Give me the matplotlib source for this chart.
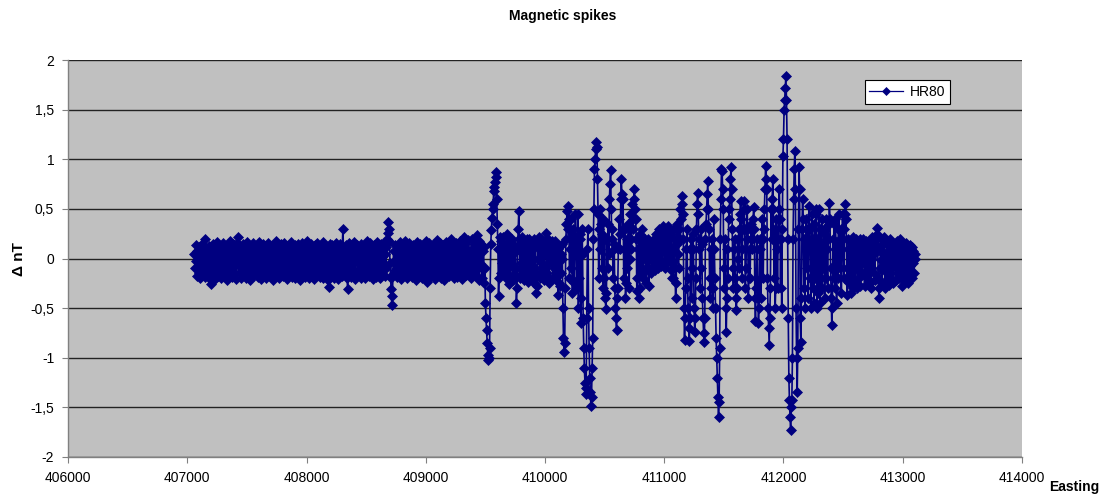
import numpy as np
import matplotlib
matplotlib.use("Agg")
import matplotlib.pyplot as plt

plt.rcParams['font.family'] = ['Liberation Sans', 'DejaVu Sans']

# HR80 profile, one reading every 5 m from the first station
easting_start = 407060
easting_step = 5

# quiet western part of the line
hr80_west = [
    0.05, -0.1, 0.14, -0.03, -0.18, 0.08, 0.0, -0.15, 0.12, -0.07, -0.2, 0.04, 0.15, -0.12, 0.02, -0.05, 0.1, -0.19, 0.2, -0.08,
    0.06, -0.14, 0.11, -0.01, -0.2, 0.13, 0.03, -0.26, -0.09, 0.09, -0.16, 0.15, -0.04, 0.07, -0.21, 0.01, 0.12, -0.11, 0.17, -0.06,
    -0.18, 0.04, 0.14, -0.13, 0.0, -0.2, 0.1, -0.07, 0.16, -0.02, -0.17, 0.08, -0.1, 0.13, -0.22, 0.05, -0.04, 0.11, -0.15, 0.18,
    0.02, -0.12, 0.09, -0.19, 0.15, -0.05, 0.06, -0.16, 0.12, -0.01, -0.21, 0.1, 0.16, 0.22, -0.08, 0.03, -0.14, 0.13, -0.2, 0.07,
    -0.03, 0.15, -0.17, 0.0, 0.11, -0.11, 0.05, -0.2, 0.17, -0.06, 0.08, -0.14, 0.02, 0.13, -0.22, -0.02, 0.1, -0.09, 0.16, -0.18,
    0.04, -0.07, 0.12, -0.15, 0.01, 0.14, -0.19, 0.07, -0.04, 0.17, -0.12, 0.03, -0.21, 0.1, -0.01, 0.15, -0.16, 0.06, -0.08, 0.13,
    -0.2, 0.0, 0.09, -0.13, 0.16, -0.05, 0.04, -0.18, 0.12, -0.1, 0.07, -0.22, 0.14, 0.02, -0.15, 0.11, -0.03, 0.18, -0.17, 0.05,
    -0.09, 0.13, -0.2, 0.03, 0.1, -0.14, 0.15, -0.02, -0.18, 0.08, -0.06, 0.16, -0.11, 0.0, 0.12, -0.21, 0.06, -0.08, 0.14, -0.16,
    0.09, -0.04, 0.17, -0.19, 0.02, 0.11, -0.12, 0.05, -0.2, 0.14, -0.07, 0.08, -0.16, 0.15, 0.01, -0.1, 0.12, -0.22, 0.04, -0.03,
    0.16, -0.15, 0.07, -0.05, 0.13, -0.19, 0.0, 0.1, -0.12, 0.18, -0.08, 0.03, -0.2, 0.11, -0.02, 0.15, -0.17, 0.06, -0.1, 0.12,
    -0.21, 0.02, 0.14, -0.06, 0.08, -0.16, 0.16, -0.01, -0.13, 0.1, -0.19, 0.05, 0.13, -0.09, 0.0, -0.2, 0.17, -0.04, 0.09, -0.14,
    0.12, -0.18, 0.04, -0.07, -0.22, -0.29, 0.01, 0.15, -0.11, 0.07, -0.17, 0.14, -0.03, 0.1, -0.2, 0.06, -0.09, 0.16, -0.14, 0.02,
    0.11, -0.21, 0.08, -0.05, 0.15, -0.13, 0.0, -0.18, 0.13, 0.3, 0.1, -0.08, 0.05, -0.16, 0.14, -0.02, -0.2, -0.31, -0.12, 0.09,
    0.16, -0.06, 0.03, -0.19, 0.12, -0.1, 0.07, -0.15, 0.17, -0.01, -0.21, 0.1, -0.04, 0.14, -0.17, 0.05, 0.11, -0.12, 0.02, -0.2,
    0.15, -0.07, 0.09, -0.16, 0.01, 0.13, -0.2, 0.06, -0.11, 0.18, -0.03, 0.04, -0.18, 0.12, -0.08, 0.16, -0.14, 0.0, 0.1, -0.21,
    0.07, -0.05, 0.14, -0.12, 0.03, -0.19, 0.17, -0.09, 0.08, -0.15, 0.11, -0.02, -0.2, 0.15, 0.02, -0.13, 0.1, -0.06, 0.16, -0.18,
    0.05, -0.1, 0.12, 0.2, 0.26, 0.37, 0.3, 0.18, -0.05, -0.2, -0.31, -0.47, -0.38, -0.16, 0.08, -0.04, 0.14, -0.12, 0.0, -0.19,
    0.13, -0.07, 0.06, -0.15, 0.17, -0.02, -0.21, 0.1, -0.11, 0.15, 0.01, -0.17, 0.09, -0.05, 0.18, -0.13, 0.04, -0.2, 0.12, -0.08,
    0.16, -0.16, 0.02, 0.11, -0.1, -0.19, 0.14, -0.03, 0.07, -0.14, 0.13, -0.22, 0.05, -0.06, 0.17, -0.12, 0.0, 0.1, -0.18, 0.15,
    -0.04, -0.2, 0.08, 0.14, -0.11, 0.03, -0.16, 0.12, -0.07, 0.18, -0.24, -0.14, 0.06, -0.02, 0.16, -0.19, 0.1, -0.09, 0.13, 0.0,
    -0.17, 0.15, -0.05, 0.07, -0.21, 0.12, -0.12, 0.19, 0.01, -0.15, 0.09, -0.08, 0.16, -0.2, 0.04, 0.11, -0.13, 0.14, -0.03, -0.22,
    0.1, -0.07, 0.17, -0.16, 0.02, 0.13, -0.1, -0.18, 0.08, 0.0, 0.2, -0.14, 0.05, -0.05, 0.15, -0.2, 0.11, -0.09, 0.16, -0.12,
    0.03, -0.19, 0.14, -0.02, 0.09, -0.15, 0.18, -0.06, -0.21, 0.12, 0.06, -0.11, 0.22, -0.04, 0.15, -0.17, 0.01, 0.1, -0.13, 0.19,
    -0.08, -0.15,
]

# first spikes around 409500 - 411000
hr80_central = [
    0.04, -0.12, -0.2, 0.1, 0.2, -0.03, -0.08, 0.15, 0.12, -0.16, -0.18, 0.06, 0.24, -0.1, 0.0, 0.18, -0.22, -0.05, 0.15, 0.08,
    -0.1, -0.2, 0.08, 0.12, -0.25, -0.1, -0.45, -0.6, -0.72, -0.85, -0.97, -1.02, -1.0, -0.9, -0.3, 0.15, 0.29, 0.41, 0.5, 0.55,
    0.68, 0.72, 0.77, 0.82, 0.87, 0.6, 0.35, 0.1, -0.38, -0.2, 0.1, 0.22, -0.15, 0.18, -0.05, 0.05, 0.22, -0.12, -0.15, 0.12,
    0.05, -0.2, 0.14, 0.25, -0.08, -0.26, 0.12, 0.2, -0.18, 0.0, 0.2, -0.08, -0.22, 0.15, 0.06, -0.16, 0.1, -0.1, -0.45, -0.3,
    0.1, 0.3, 0.48, 0.2, -0.2, 0.14, -0.05, -0.12, 0.22, 0.0, -0.22, 0.05, 0.18, -0.1, -0.16, 0.1, 0.2, -0.24, -0.05, 0.2,
    -0.12, 0.15, 0.02, -0.2, 0.12, -0.18, 0.1, 0.2, -0.25, -0.1, 0.15, -0.35, -0.28, -0.18, 0.12, 0.0, 0.22, -0.15, -0.2, 0.1,
    0.2, -0.05, -0.1, 0.16, 0.05, -0.22, 0.18, 0.26, 0.1, -0.15, 0.05, 0.2, -0.2, -0.25, 0.1, 0.15, -0.05, 0.18, 0.0, -0.2,
    0.12, -0.1, 0.18, -0.2, 0.05, 0.15, -0.15, 0.1, -0.37, -0.25, 0.12, -0.28, 0.05, -0.15, 0.15, 0.0, -0.5, -0.8, -0.94, -0.85,
    -0.3, 0.2, 0.35, 0.48, 0.3, 0.53, 0.4, -0.2, 0.1, 0.4, -0.1, 0.25, -0.35, 0.3, 0.05, -0.25, 0.2, 0.45, 0.15, -0.3,
    0.1, 0.45, -0.5, -0.2, 0.2, 0.25, -0.65, -0.4, 0.3, 0.05, -0.6, -0.9, -1.1, -1.25, -1.37, -1.3, -0.6, 0.1, 0.3, -0.5,
    -0.9, -1.2, -1.35, -1.49, -1.4, -1.1, -0.8, 0.2, 0.5, 0.9, 1.0, 1.1, 1.17, 1.12, 0.8, 0.45, -0.2, 0.3, 0.5, 0.1,
    0.35, -0.1, 0.25, -0.3, 0.4, -0.2, 0.2, -0.4, -0.51, -0.35, 0.2, -0.1, 0.35, 0.05, 0.6, 0.75, 0.89, 0.5, 0.2, 0.3,
    -0.2, 0.1, 0.15, -0.3, -0.5, -0.6, -0.72, -0.4, -0.3, 0.1, 0.4, 0.25, 0.1, 0.6, 0.8, 0.65, 0.3, 0.6, -0.2, 0.1,
    0.3, -0.4, -0.25, 0.2, -0.1, 0.1, 0.35, -0.3, 0.0, 0.45, 0.2, 0.1, 0.55, 0.3, 0.4, 0.6, 0.7, 0.5, 0.4, 0.2,
    -0.33, -0.2, 0.1, 0.2, -0.4, -0.3, 0.25, 0.1, -0.15, 0.3, 0.0, -0.2, 0.15, 0.2, 0.05, -0.1, -0.25, 0.15, 0.2, -0.1,
    -0.28, 0.0, 0.08, 0.15, -0.15, -0.1, 0.1, 0.18, -0.1, 0.2, -0.12, -0.05, 0.25, 0.12, -0.05, 0.22, -0.1, 0.05, 0.3, 0.0,
    -0.08, 0.28, 0.15, -0.05, 0.33, 0.1, 0.2, -0.1, 0.3, 0.05, 0.25, -0.05, 0.33, 0.15, 0.0, 0.28, 0.1, -0.12, 0.25, -0.2,
]

# strongest anomalies, 411000 - 412700
hr80_east = [
    0.1, -0.2, 0.2, 0.3, -0.1, -0.4, -0.25, 0.15, 0.35, 0.05, -0.1, 0.3, 0.5, 0.2, 0.4, 0.55, 0.63, 0.45, 0.2, -0.5,
    -0.82, -0.6, -0.3, 0.1, 0.3, -0.2, -0.5, -0.7, -0.83, -0.6, 0.1, 0.2, -0.4, -0.1, 0.25, 0.1, -0.5, -0.74, -0.6, -0.2,
    0.3, 0.55, 0.66, 0.45, 0.2, 0.1, -0.3, -0.1, 0.3, 0.15, -0.4, -0.6, -0.75, -0.84, -0.6, 0.2, 0.35, 0.5, 0.65, 0.78,
    0.5, 0.3, -0.2, -0.4, 0.1, -0.3, 0.2, -0.5, -0.3, 0.4, 0.1, -0.2, -0.5, -0.8, -1.0, -1.2, -1.4, -1.6, -1.45, -0.9,
    0.2, 0.6, 0.9, 0.88, 0.7, 0.5, -0.3, -0.1, 0.2, -0.5, -0.74, -0.4, 0.1, -0.2, 0.4, 0.5, 0.6, 0.8, 0.92, 0.7,
    0.3, -0.1, -0.3, 0.1, 0.2, -0.2, -0.4, -0.52, -0.3, 0.2, 0.0, 0.3, -0.1, 0.45, 0.58, 0.4, -0.2, 0.1, 0.3, 0.5,
    0.58, 0.3, -0.3, -0.1, 0.2, 0.5, 0.3, -0.4, -0.2, 0.1, -0.2, 0.2, 0.35, 0.1, 0.2, 0.4, 0.52, 0.3, -0.4, -0.63,
    -0.3, 0.2, 0.1, -0.4, -0.65, -0.5, 0.1, 0.2, -0.4, -0.2, 0.4, 0.2, -0.2, 0.3, 0.5, 0.7, 0.93, 0.8, 0.7, -0.2,
    -0.5, -0.7, -0.87, -0.6, -0.3, 0.5, 0.2, 0.6, 0.8, 0.5, -0.2, 0.3, -0.5, -0.3, 0.4, 0.1, -0.3, 0.2, 0.5, 0.7,
    0.4, -0.3, 0.2, -0.5, 0.3, 1.03, 1.2, 1.5, 1.6, 1.72, 1.84, 1.6, 1.2, 0.2, -0.6, -1.2, -1.43, -1.6, -1.73, -1.5,
    -1.43, -1.0, 0.2, 0.6, 0.9, 1.08, 0.7, -0.5, -1.0, -1.35, -0.9, 0.3, 0.92, 0.7, -0.6, -0.84, -0.4, 0.3, 0.6, 0.4,
    -0.3, 0.2, -0.5, 0.1, 0.4, -0.1, 0.3, -0.4, 0.2, 0.53, 0.3, -0.2, -0.5, 0.1, 0.45, -0.3, 0.2, -0.45, 0.35, -0.2,
    0.5, 0.45, -0.5, 0.2, -0.35, 0.5, 0.1, -0.45, 0.3, -0.2, 0.4, -0.3, 0.15, -0.1, 0.3, -0.4, 0.25, -0.2, 0.4, 0.1,
    -0.3, 0.2, 0.35, 0.56, 0.4, -0.1, -0.4, -0.67, -0.5, 0.2, -0.2, 0.35, -0.3, 0.4, 0.1, -0.45, 0.15, -0.2, 0.3, 0.45,
    0.2, -0.1, 0.3, -0.35, 0.1, 0.45, 0.2, -0.2, 0.3, 0.45, 0.55, 0.4, -0.1, -0.37, -0.2, 0.2, -0.25, 0.18, 0.1, -0.35,
    0.1, -0.2, 0.22, -0.3, 0.05, 0.15, -0.25, 0.2, -0.1, 0.0, -0.3, 0.18, 0.1, -0.2, 0.2, -0.28, 0.05, 0.12, -0.15, 0.2,
]

# quiet end of the line
hr80_tail = [
    0.12, -0.05, -0.28, 0.08, 0.18, 0.02, -0.2, -0.12, 0.15, 0.05, -0.1, -0.25, 0.2, -0.3, 0.0, 0.22, 0.1, -0.15, 0.05, -0.22,
    0.15, 0.2, 0.25, 0.31, 0.1, -0.2, -0.4, -0.3, -0.1, 0.2, -0.02, -0.25, 0.14, 0.05, -0.12, 0.22, -0.3, -0.1, 0.0, 0.17,
    -0.22, 0.08, -0.05, -0.27, 0.12, 0.2, -0.05, -0.2, 0.1, 0.0, -0.25, 0.15, -0.08, 0.12, 0.02, -0.22, 0.18, -0.15, 0.06, -0.1,
    -0.2, 0.12, 0.2, -0.05, -0.28, 0.08, 0.15, -0.18, 0.0, 0.1, -0.22, 0.05, 0.16, -0.12, -0.25, 0.1, 0.02, -0.2, 0.14, -0.08,
    0.1, -0.2, 0.12, -0.05, 0.08, -0.15, 0.05, 0.0,
]

x_ticks = [406000, 407000, 408000, 409000, 410000, 411000, 412000, 413000, 414000]
y_ticks = [-2, -1.5, -1, -0.5, 0, 0.5, 1, 1.5, 2]
y_labels = ['-2', '-1,5', '-1', '-0,5', '0', '0,5', '1', '1,5', '2']

hr80 = np.array(hr80_west + hr80_central + hr80_east + hr80_tail)
easting = easting_start + easting_step * np.arange(len(hr80))

fig = plt.figure(figsize=(11.1, 4.94), dpi=100)
ax = fig.add_axes([0.0613, 0.0749, 0.8594, 0.8036])
ax.set_facecolor('#c0c0c0')

ax.plot(easting, hr80, color='#000080', lw=1.2, marker='D', ms=5.6,
        mfc='#000080', mec='#000080', mew=0.5, label='HR80')

ax.set_xlim(406000, 414000)
ax.set_ylim(-2, 2)
ax.set_xticks(x_ticks)
ax.set_xticklabels([str(t) for t in x_ticks])
ax.set_yticks(y_ticks)
ax.set_yticklabels(y_labels)
ax.yaxis.grid(True, color='#222222', lw=1)
ax.set_axisbelow(True)

for side in ['top', 'right']:
    ax.spines[side].set_visible(False)
for side in ['left', 'bottom']:
    ax.spines[side].set_color('#808080')
    ax.spines[side].set_linewidth(1)
ax.tick_params(direction='out', length=4, color='#808080', labelsize=10, pad=6)

leg = ax.legend(loc='upper left', bbox_to_anchor=(0.835, 0.95), borderaxespad=0,
                fancybox=False, edgecolor='black', framealpha=1, facecolor='white',
                fontsize=10, borderpad=0.35, handlelength=2.4, handletextpad=0.5,
                markerscale=0.8)
leg.get_frame().set_linewidth(0.8)
for handle in leg.get_lines():
    handle.set_linewidth(0.9)

fig.text(0.507, 0.968, 'Magnetic spikes', ha='center', va='center', fontsize=10, fontweight='bold')
fig.text(0.017, 0.476, 'Δ nT', ha='center', va='center', rotation=90, fontsize=11, fontweight='bold')
fig.text(0.968, 0.014, 'Easting', ha='center', va='center', fontsize=10, fontweight='bold')

fig.savefig('out.png', dpi=100)
